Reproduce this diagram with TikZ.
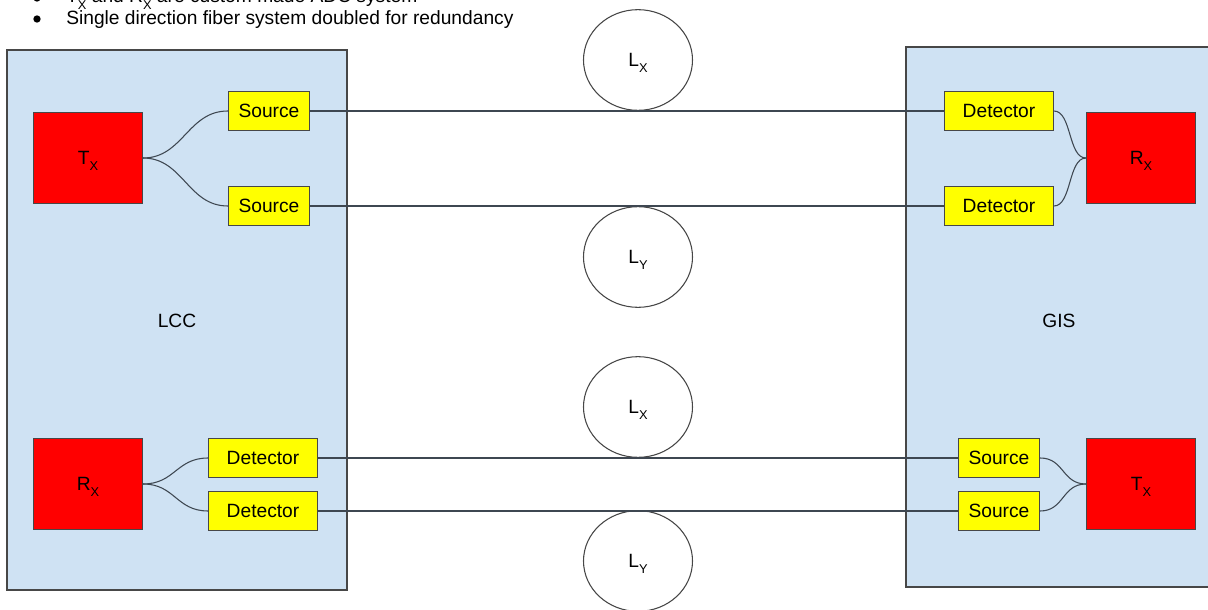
\documentclass[tikz,border=0pt]{standalone}
\usepackage{fontspec}
\setmainfont{Liberation Sans}
\usetikzlibrary{shapes.geometric}

\definecolor{panelblue}{HTML}{CFE2F3}
\definecolor{edgegray}{HTML}{474747}
\definecolor{fibergray}{HTML}{3E4751}
\definecolor{unitred}{HTML}{FF0000}
\definecolor{optyellow}{HTML}{FFFF00}

% small, well lowered subscript letter
\newcommand\lowsub[1]{\raisebox{-4.6pt}{\fontsize{9.6}{10}\selectfont #1}}

\tikzset{
  txt/.style={font=\fontsize{14.4}{17}\selectfont, text=black},
  panel/.style={draw=edgegray, fill=panelblue, line width=0.8pt, inner sep=0pt},
  unit/.style={draw=edgegray, fill=unitred, line width=0.8pt, inner sep=0pt,
               minimum width=81.75pt, minimum height=68.25pt, text depth=0pt, txt},
  optsrc/.style={draw=edgegray, fill=optyellow, line width=0.8pt, inner sep=0pt,
               minimum width=61pt, minimum height=29.5pt, txt},
  optdet/.style={draw=edgegray, fill=optyellow, line width=0.8pt, inner sep=0pt,
               minimum width=81.5pt, minimum height=29.75pt, txt},
  spool/.style={ellipse, draw=edgegray, line width=0.8pt, inner sep=0pt,
               minimum width=81.75pt, minimum height=75.5pt, text depth=0pt, txt},
  fiber/.style={draw=fibergray, line width=0.8pt},
  bulletdot/.style={circle, fill=black, inner sep=0pt, minimum size=5.5pt}
}

\begin{document}
\begin{tikzpicture}[x=0.75pt, y=-0.75pt]
  \useasboundingbox (0,0) rectangle (1208,610);
  \clip (0,0) rectangle (1208,610);

  % notes at the top
  \node[bulletdot] (b1) at (37,-2) {};
  \node[txt, anchor=base west, inner sep=0pt] (n1) at (66,3)
    {T\lowsub{X} and R\lowsub{X} are custom made ADC system};
  \node[bulletdot] (b2) at (37,19) {};
  \node[txt, anchor=base west, inner sep=0pt] (n2) at (66,25)
    {Single direction fiber system doubled for redundancy};

  % the two stations
  \node[panel, minimum width=255pt, minimum height=405pt] (lcc) at (177,320) {};
  \node[panel, minimum width=229.5pt, minimum height=405pt] (gis) at (1059,317) {};
  \node[txt] (lccname) at (177,321) {LCC};
  \node[txt] (gisname) at (1059,321) {GIS};

  % LCC side
  \node[unit] (txL) at (88,158) {T\lowsub{X}};
  \node[optsrc] (srcA) at (269,111) {Source};
  \node[optsrc] (srcB) at (269,206) {Source};
  \node[unit] (rxL) at (88,484) {R\lowsub{X}};
  \node[optdet] (detC) at (263,458) {Detector};
  \node[optdet] (detD) at (263,511) {Detector};

  % GIS side
  \node[optdet] (detA) at (999,111) {Detector};
  \node[optdet] (detB) at (999,206) {Detector};
  \node[unit] (rxR) at (1141,158) {R\lowsub{X}};
  \node[optsrc] (srcC) at (999,458) {Source};
  \node[optsrc] (srcD) at (999,511) {Source};
  \node[unit] (txR) at (1141,484) {T\lowsub{X}};

  % fiber spools
  \node[spool] (lx1) at (638,60) {L\lowsub{X}};
  \node[spool] (ly1) at (638,257) {L\lowsub{Y}};
  \node[spool] (lx2) at (638,407) {L\lowsub{X}};
  \node[spool] (ly2) at (638,561) {L\lowsub{Y}};

  % splitters inside the stations
  \draw[fiber] (txL.east) .. controls +(40,0) and +(-40,0) .. (srcA.west);
  \draw[fiber] (txL.east) .. controls +(40,0) and +(-40,0) .. (srcB.west);
  \draw[fiber] (detA.east) .. controls +(18,0) and +(-18,0) .. (rxR.west);
  \draw[fiber] (detB.east) .. controls +(18,0) and +(-18,0) .. (rxR.west);
  \draw[fiber] (rxL.east) .. controls +(32,0) and +(-32,0) .. (detC.west);
  \draw[fiber] (rxL.east) .. controls +(32,0) and +(-32,0) .. (detD.west);
  \draw[fiber] (srcC.east) .. controls +(24,0) and +(-24,0) .. (txR.west);
  \draw[fiber] (srcD.east) .. controls +(24,0) and +(-24,0) .. (txR.west);

  % long fiber runs between the stations
  \draw[fiber] (srcA.east) -- (detA.west);
  \draw[fiber] (srcB.east) -- (detB.west);
  \draw[fiber] (detC.east) -- (srcC.west);
  \draw[fiber] (detD.east) -- (srcD.west);
\end{tikzpicture}
\end{document}
